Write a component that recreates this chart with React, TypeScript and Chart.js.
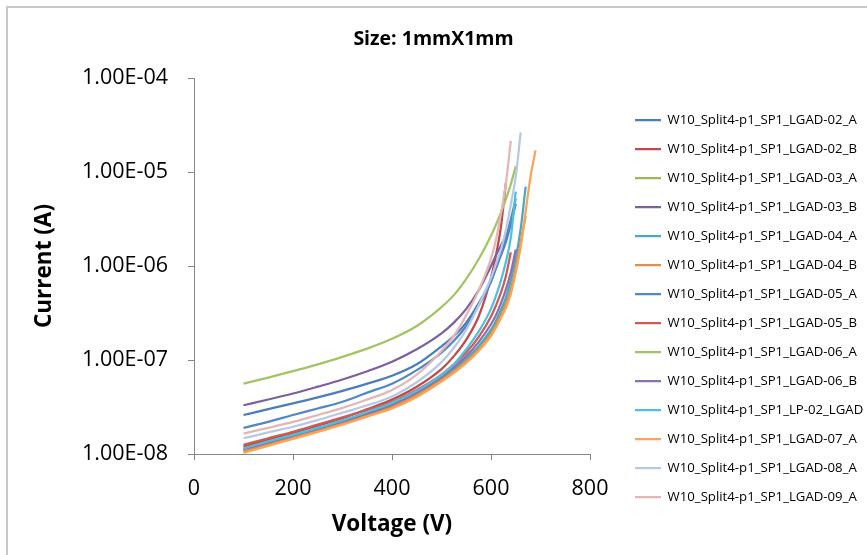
import React, { useEffect, useRef } from 'react';
import { Chart, registerables } from 'chart.js';

Chart.register(...registerables);

// ---------- data ----------
const chartTitle = 'Size: 1mmX1mm';
const xTitle = 'Voltage (V)';
const yTitle = 'Current (A)';

const voltages = [100, 150, 200, 250, 300, 350, 400, 450, 500, 525, 550, 575, 600, 610, 620, 630, 640, 650, 660, 670, 680, 690];

const seriesNames = [
  'W10_Split4-p1_SP1_LGAD-02_A',
  'W10_Split4-p1_SP1_LGAD-02_B',
  'W10_Split4-p1_SP1_LGAD-03_A',
  'W10_Split4-p1_SP1_LGAD-03_B',
  'W10_Split4-p1_SP1_LGAD-04_A',
  'W10_Split4-p1_SP1_LGAD-04_B',
  'W10_Split4-p1_SP1_LGAD-05_A',
  'W10_Split4-p1_SP1_LGAD-05_B',
  'W10_Split4-p1_SP1_LGAD-06_A',
  'W10_Split4-p1_SP1_LGAD-06_B',
  'W10_Split4-p1_SP1_LP-02_LGAD',
  'W10_Split4-p1_SP1_LGAD-07_A',
  'W10_Split4-p1_SP1_LGAD-08_A',
  'W10_Split4-p1_SP1_LGAD-09_A',
];

const seriesColors = [
  '#4A7EBB', '#BE4B48', '#98B954', '#7D60A0', '#46AAC5', '#E38E45', '#4F88C8',
  '#CB5B57', '#A2C563', '#8B70AE', '#4DC1DB', '#FAA457', '#B7C8E4', '#E4B6B5',
];

const lgad02A = [2.6e-8, 3.0e-8, 3.45e-8, 4.0e-8, 4.7e-8, 5.6e-8, 6.8e-8, 9.0e-8, 1.4e-7, 1.8e-7, 2.5e-7, 4.0e-7, 7.0e-7, 9.5e-7, 1.3e-6, 1.8e-6, 2.8e-6, 4.6e-6];
const lgad02B = [1.2e-8, 1.42e-8, 1.68e-8, 2.0e-8, 2.4e-8, 3.0e-8, 3.8e-8, 5.2e-8, 8.0e-8, 1.1e-7, 1.65e-7, 2.9e-7, 7.5e-7, 1.3e-6, 2.6e-6, 7.6e-6];
const lgad03A = [1.06e-8, 1.25e-8, 1.48e-8, 1.75e-8, 2.1e-8, 2.55e-8, 3.15e-8, 4.2e-8, 6.0e-8, 7.5e-8, 9.6e-8, 1.3e-7, 1.95e-7, 2.4e-7, 3.1e-7, 4.1e-7, 5.8e-7, 9.0e-7];
const lgad03B = [3.3e-8, 3.8e-8, 4.4e-8, 5.2e-8, 6.2e-8, 7.6e-8, 9.6e-8, 1.3e-7, 1.92e-7, 2.5e-7, 3.5e-7, 5.5e-7, 1.0e-6, 1.3e-6, 1.65e-6, 2.1e-6];
const lgad04A = [1.1e-8, 1.3e-8, 1.55e-8, 1.83e-8, 2.2e-8, 2.7e-8, 3.35e-8, 4.45e-8, 6.4e-8, 8.0e-8, 1.03e-7, 1.4e-7, 2.1e-7, 2.6e-7, 3.4e-7, 4.6e-7, 7.0e-7, 1.2e-6, 2.5e-6, 7.0e-6];
const lgad04B = [1.08e-8, 1.28e-8, 1.5e-8, 1.78e-8, 2.12e-8, 2.6e-8, 3.2e-8, 4.25e-8, 6.1e-8, 7.6e-8, 9.7e-8, 1.3e-7, 1.9e-7, 2.35e-7, 3.0e-7, 3.9e-7, 5.5e-7, 9.5e-7, 1.8e-6, 3.4e-6];
const lgad05A = [1.9e-8, 2.2e-8, 2.6e-8, 3.05e-8, 3.6e-8, 4.5e-8, 5.6e-8, 7.8e-8, 1.2e-7, 1.6e-7, 2.3e-7, 3.8e-7, 6.8e-7, 9.5e-7, 1.35e-6, 2.0e-6, 3.1e-6, 5.2e-6];
const lgad05B = [1.25e-8, 1.47e-8, 1.72e-8, 2.05e-8, 2.45e-8, 2.95e-8, 3.6e-8, 4.8e-8, 7.0e-8, 9.0e-8, 1.2e-7, 1.75e-7, 2.9e-7, 3.8e-7, 5.2e-7, 7.8e-7, 1.4e-6];
const lgad06A = [5.6e-8, 6.5e-8, 7.6e-8, 9.0e-8, 1.08e-7, 1.32e-7, 1.68e-7, 2.3e-7, 3.65e-7, 4.9e-7, 7.3e-7, 1.18e-6, 2.1e-6, 2.75e-6, 3.7e-6, 5.1e-6, 7.4e-6, 1.15e-5];
const lgad06B = [1.13e-8, 1.33e-8, 1.57e-8, 1.86e-8, 2.22e-8, 2.7e-8, 3.35e-8, 4.5e-8, 6.6e-8, 8.4e-8, 1.1e-7, 1.55e-7, 2.4e-7, 3.0e-7, 4.0e-7, 5.6e-7, 8.5e-7, 1.5e-6];
const lp02 = [1.15e-8, 1.36e-8, 1.6e-8, 1.9e-8, 2.28e-8, 2.8e-8, 3.5e-8, 4.7e-8, 6.9e-8, 9.0e-8, 1.3e-7, 2.0e-7, 3.5e-7, 4.8e-7, 7.0e-7, 1.1e-6, 2.0e-6, 6.2e-6];
const lgad07A = [1.03e-8, 1.22e-8, 1.45e-8, 1.72e-8, 2.05e-8, 2.5e-8, 3.05e-8, 4.05e-8, 5.9e-8, 7.3e-8, 9.3e-8, 1.25e-7, 1.8e-7, 2.2e-7, 2.8e-7, 3.6e-7, 5.0e-7, 8.5e-7, 1.6e-6, 3.8e-6, 9.0e-6, 1.7e-5];
const lgad08A = [1.47e-8, 1.7e-8, 1.95e-8, 2.3e-8, 2.75e-8, 3.3e-8, 4.1e-8, 5.8e-8, 9.5e-8, 1.35e-7, 2.1e-7, 3.8e-7, 7.5e-7, 1.05e-6, 1.5e-6, 2.4e-6, 4.5e-6, 9.0e-6, 2.64e-5];
const lgad09A = [1.65e-8, 1.9e-8, 2.2e-8, 2.6e-8, 3.1e-8, 3.8e-8, 4.8e-8, 7.0e-8, 1.25e-7, 1.8e-7, 3.0e-7, 5.5e-7, 1.2e-6, 1.9e-6, 3.6e-6, 7.5e-6, 2.15e-5];

const seriesValues = [lgad02A, lgad02B, lgad03A, lgad03B, lgad04A, lgad04B, lgad05A, lgad05B, lgad06A, lgad06B, lp02, lgad07A, lgad08A, lgad09A];

const xTickValues = [0, 200, 400, 600, 800];
const yTickValues = [1e-8, 1e-7, 1e-6, 1e-5, 1e-4];
const yTickLabels = ['1.00E-08', '1.00E-07', '1.00E-06', '1.00E-05', '1.00E-04'];

// ---------- layout ----------
const W = 867;
const H = 555;
const FONT = "'Open Sans', sans-serif";
const AXIS = '#868686';
const PLOT_LEFT = 194;
const PLOT_RIGHT = 590;
const PLOT_BOTTOM = 454;
const TICK_FONT = 21.5;
const AXIS_TITLE_FONT = 22.5;
const LEGEND_FONT_SIZE = 13.2;
const LEGEND_BOX = 26;
const LEGEND_ROW = 29;
const LEGEND_PAD = LEGEND_ROW - LEGEND_FONT_SIZE;
const LEGEND_LINE_X = 635;
const LEGEND_FIRST_Y = 120;
const LEGEND_LEFT = LEGEND_LINE_X - LEGEND_PAD;
const LEGEND_W = W - LEGEND_LEFT;

export default function App() {
  const ref = useRef<HTMLCanvasElement | null>(null);

  useEffect(() => {
    if (!ref.current) return;
    Chart.defaults.font.family = FONT;

    // natural legend width (text measured with the legend font)
    const mctx = document.createElement('canvas').getContext('2d')!;
    mctx.font = `${LEGEND_FONT_SIZE}px ${FONT}`;
    const maxText = Math.max(...seriesNames.map((s) => mctx.measureText(s).width));
    const natural = LEGEND_PAD + LEGEND_BOX + LEGEND_FONT_SIZE / 2 + maxText + 10;
    const side = Math.max(0, LEGEND_W - natural); // symmetric side padding keeps title centred

    const n = seriesNames.length;
    const chart = new Chart(ref.current, {
      type: 'line',
      data: {
        datasets: seriesNames.map((name, i) => ({
          label: name,
          data: seriesValues[i].map((v, j) => ({ x: voltages[j], y: v })),
          borderColor: seriesColors[i],
          backgroundColor: seriesColors[i],
          borderWidth: 2.25,
          pointRadius: 0,
          pointHoverRadius: 0,
          fill: false,
          cubicInterpolationMode: 'monotone',
          order: n - i,
          xAxisID: 'x',
          yAxisID: 'y',
        })),
      },
      options: {
        animation: false,
        responsive: false,
        maintainAspectRatio: false,
        devicePixelRatio: 1,
        events: [],
        layout: { padding: { left: side, right: side, top: 0, bottom: 0 } },
        plugins: {
          title: {
            display: true,
            text: chartTitle,
            color: '#000',
            font: { family: FONT, size: 19.5, weight: 'bold', lineHeight: 1.2 },
            padding: { top: 28, bottom: 26.6 },
          },
          legend: {
            display: true,
            position: 'right',
            align: 'start',
            fullSize: true,
            maxWidth: LEGEND_W - side,
            title: {
              display: true,
              text: '',
              padding: { top: LEGEND_FIRST_Y - LEGEND_FONT_SIZE / 2 - LEGEND_PAD - 14.4, bottom: 0 },
              font: { size: 12, lineHeight: 1.2 },
            },
            labels: {
              boxWidth: LEGEND_BOX,
              boxHeight: 0,
              padding: LEGEND_PAD,
              color: '#000',
              font: { family: FONT, size: LEGEND_FONT_SIZE },
              sort: (a: any, b: any) => a.datasetIndex - b.datasetIndex,
            },
          },
          tooltip: { enabled: false },
        },
        scales: {
          x: {
            type: 'linear',
            position: 'bottom',
            min: 0,
            max: 800,
            afterBuildTicks: (s: any) => { s.ticks = xTickValues.map((v) => ({ value: v })); },
            afterFit: (s: any) => { s.height = H - PLOT_BOTTOM; },
            grid: { display: true, drawOnChartArea: false, drawTicks: true, tickLength: 6, color: AXIS, lineWidth: 1 },
            border: { display: true, color: AXIS, width: 1 },
            ticks: { color: '#000', padding: 488.5 - PLOT_BOTTOM - 6 - TICK_FONT * 0.6, font: { family: FONT, size: TICK_FONT }, maxRotation: 0, callback: (v: any) => String(v) },
            title: { display: true, text: xTitle, color: '#000', font: { family: FONT, size: AXIS_TITLE_FONT, weight: 'bold', lineHeight: 1.2 }, padding: { top: 0, bottom: H - 525 - AXIS_TITLE_FONT * 0.6 } },
          },
          y: {
            type: 'logarithmic',
            position: 'left',
            min: 1e-8,
            max: 1e-4,
            afterBuildTicks: (s: any) => { s.ticks = yTickValues.map((v) => ({ value: v })); },
            afterFit: (s: any) => { s.width = PLOT_LEFT - side; },
            grid: { display: true, drawOnChartArea: false, drawTicks: true, tickLength: 6, color: AXIS, lineWidth: 1 },
            border: { display: true, color: AXIS, width: 1 },
            ticks: { color: '#000', padding: 20, font: { family: FONT, size: TICK_FONT }, autoSkip: false, callback: (_v: any, i: number) => yTickLabels[i] },
            title: { display: true, text: yTitle, color: '#000', font: { family: FONT, size: AXIS_TITLE_FONT, weight: 'bold', lineHeight: 1.2 }, padding: { top: 45 - side - AXIS_TITLE_FONT * 0.6, bottom: 0 } },
          },
          y2: {
            type: 'linear',
            position: 'right',
            display: true,
            afterFit: (s: any) => { s.width = LEGEND_LEFT - PLOT_RIGHT; },
            grid: { display: false, drawTicks: false },
            border: { display: false },
            ticks: { display: false },
          },
        },
      } as any,
    });
    return () => chart.destroy();
  }, []);

  return (
    <div style={{ position: 'absolute', left: 0, top: 0, width: W, height: H, overflow: 'hidden', background: '#fff' }}>
      <div style={{ position: 'absolute', left: 6, top: 6, width: W, height: H, borderLeft: '2px solid #c8c8c8', borderTop: '2px solid #c8c8c8' }} />
      <canvas ref={ref} width={W} height={H} style={{ position: 'absolute', left: 0, top: 0, width: W, height: H }} />
    </div>
  );
}
